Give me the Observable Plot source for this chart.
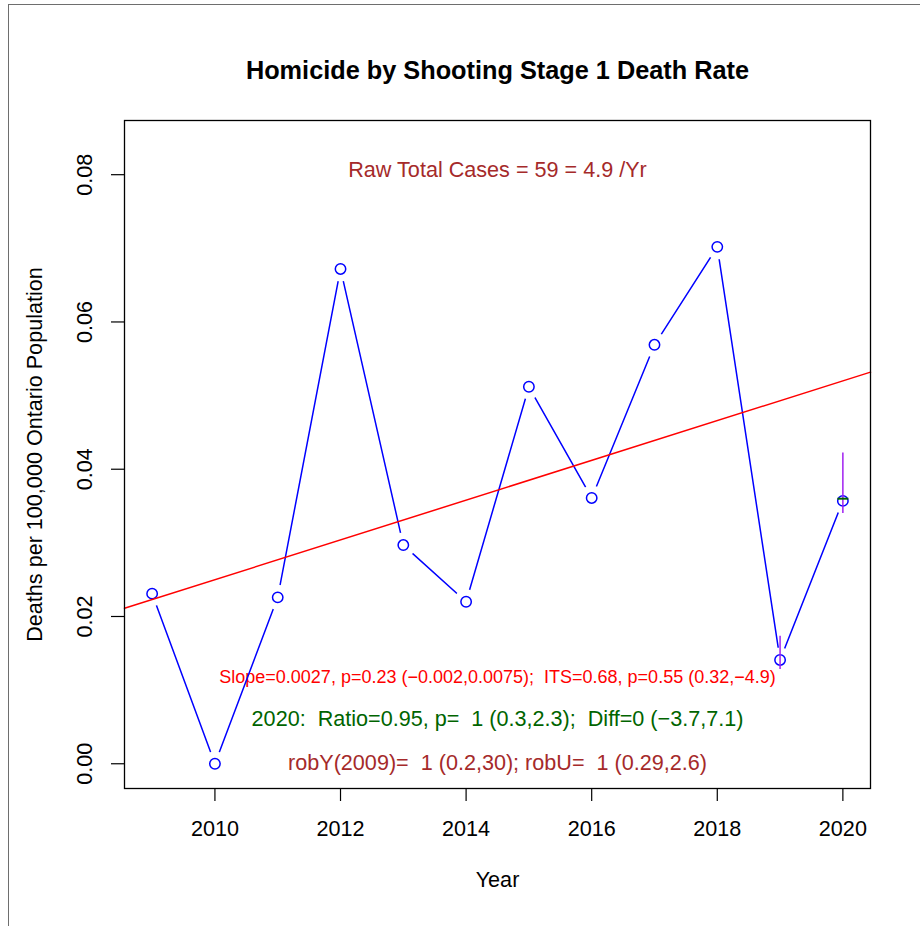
<!DOCTYPE html>
<html>
<head>
<meta charset="utf-8">
<script src="https://cdn.jsdelivr.net/npm/d3@7"></script>
<script src="https://cdn.jsdelivr.net/npm/@observablehq/plot@0.6"></script>
<style>
  body { margin: 0; background: #fff; }
  #wrap { position: relative; width: 920px; height: 926px; overflow: hidden; }
  #border { position: absolute; left: 8px; top: 4px; width: 1000px; height: 1000px;
            border-left: 1.5px solid #6e6e6e; border-top: 1.5px solid #6e6e6e; pointer-events: none; }
</style>
</head>
<body>
<div id="wrap"><div id="border"></div></div>
<script>
// ---- data ----
const years = [2009, 2010, 2011, 2012, 2013, 2014, 2015, 2016, 2017, 2018, 2019, 2020];
const rates = [0.0231, 0.0000, 0.0226, 0.0672, 0.0297, 0.0220, 0.0512, 0.0361, 0.0569, 0.0702, 0.0141, 0.0357];
const trendAt2009 = 0.0223;
const trendSlope = 0.0027;
const ciYears = [2019, 2020];
const ciLow = [0.0128, 0.0340];
const ciHigh = [0.0173, 0.0422];
const markYears = [2020];
const markValues = [0.0360];
const xTicks = [2010, 2012, 2014, 2016, 2018, 2020];
const yTicks = [0, 0.02, 0.04, 0.06, 0.08];
const yTickLabels = ["0.00", "0.02", "0.04", "0.06", "0.08"];
const titleText = "Homicide by Shooting Stage 1 Death Rate";
const xLabel = "Year";
const yLabel = "Deaths per 100,000 Ontario Population";
const rawText = "Raw Total Cases = 59 = 4.9 /Yr";
const slopeText = "Slope=0.0027, p=0.23 (\u22120.002,0.0075);  ITS=0.68, p=0.55 (0.32,\u22124.9)";
const ratioText = "2020:  Ratio=0.95, p=  1 (0.3,2.3);  Diff=0 (\u22123.7,7.1)";
const robText = "robY(2009)=  1 (0.2,30); robU=  1 (0.29,2.6)";

// ---- derived tables ----
const xDomain = [2008.56, 2020.44];
const yDomain = [-0.00336, 0.08736];
const series = years.map((y, i) => ({year: y, rate: rates[i]}));
const trend = xDomain.map(x => ({year: x, rate: trendAt2009 + trendSlope * (x - 2009)}));
const ci = ciYears.map((y, i) => ({year: y, lo: ciLow[i], hi: ciHigh[i]}));
const marks = markYears.map((y, i) => ({year: y, rate: markValues[i]}));

const hline = {draw(context, size) { const r = Math.sqrt(size / Math.PI); context.moveTo(-r, 0); context.lineTo(r, 0); }};
const font = "'Liberation Sans', Arial, Helvetica, sans-serif";
const base = 21.6;

const chart = Plot.plot({
  width: 920, height: 926,
  marginLeft: 124, marginRight: 50, marginTop: 120, marginBottom: 138,
  x: {domain: xDomain},
  y: {domain: yDomain},
  style: {fontFamily: font, fontSize: base + "px", background: "transparent", color: "black"},
  marks: [
    Plot.axisX({ticks: xTicks, tickSize: 13, tickFormat: () => "", label: null, strokeWidth: 1.2}),
    Plot.axisY({ticks: yTicks, tickSize: 13, tickFormat: () => "", label: null, strokeWidth: 1.2}),
    Plot.text(xTicks, {x: d => d, text: d => String(d), frameAnchor: "bottom", textAnchor: "middle", lineAnchor: "middle", dy: 41, fontSize: base, fill: "black"}),
    Plot.text(yTicks, {y: d => d, text: (d, i) => yTickLabels[i], frameAnchor: "left", textAnchor: "middle", lineAnchor: "middle", dx: -39, rotate: -90, fontSize: base, fill: "black"}),
    Plot.text([yLabel], {text: d => d, frameAnchor: "left", textAnchor: "middle", lineAnchor: "middle", dx: -89, rotate: -90, fontSize: base, fill: "black"}),
    Plot.text([xLabel], {text: d => d, frameAnchor: "bottom", textAnchor: "middle", lineAnchor: "middle", dy: 92, fontSize: base, fill: "black"}),
    Plot.text([titleText], {text: d => d, frameAnchor: "top", textAnchor: "middle", lineAnchor: "middle", dy: -50, fontSize: 25.3, fontWeight: "bold", fill: "black"}),
    Plot.text([rawText], {text: d => d, frameAnchor: "top", textAnchor: "middle", lineAnchor: "middle", dy: 50, fontSize: base, fill: "#A52A2A"}),
    Plot.text([slopeText], {text: d => d, frameAnchor: "bottom", textAnchor: "middle", lineAnchor: "middle", dy: -111, fontSize: 18, fill: "#FF0000"}),
    Plot.text([ratioText], {text: d => d, frameAnchor: "bottom", textAnchor: "middle", lineAnchor: "middle", dy: -69, fontSize: base, fill: "#006400"}),
    Plot.text([robText], {text: d => d, frameAnchor: "bottom", textAnchor: "middle", lineAnchor: "middle", dy: -25, fontSize: base, fill: "#A52A2A"}),
    Plot.line(series, {x: "year", y: "rate", stroke: "#0000FF", strokeWidth: 1.5}),
    Plot.dot(series, {x: "year", y: "rate", r: 12.5, fill: "white", stroke: "none"}),
    Plot.dot(series, {x: "year", y: "rate", r: 5.2, fill: "none", stroke: "#0000FF", strokeWidth: 1.5}),
    Plot.line(trend, {x: "year", y: "rate", stroke: "#FF0000", strokeWidth: 1.5}),
    Plot.ruleX(ci, {x: "year", y1: "lo", y2: "hi", stroke: "#A020F0", strokeWidth: 1.5}),
    Plot.dot(marks, {x: "year", y: "rate", symbol: hline, r: 5.5, stroke: "#006400", strokeWidth: 2}),
    Plot.frame({stroke: "black", strokeWidth: 1.3})
  ]
});
document.getElementById("wrap").appendChild(chart);
</script>
</body>
</html>
